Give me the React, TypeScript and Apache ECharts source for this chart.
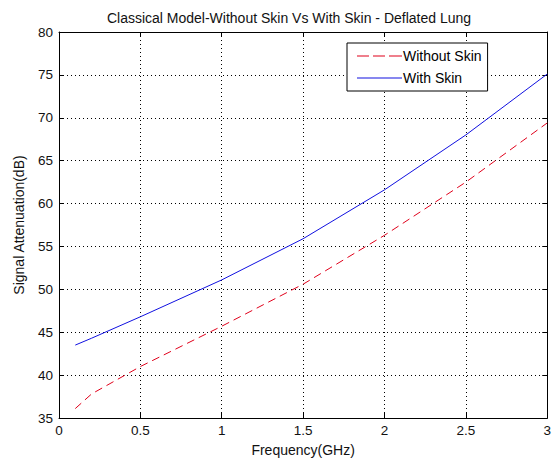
import React, { useEffect, useRef } from "react";
import * as echarts from "echarts";

const frequency = [0.1, 0.2, 0.5, 1.0, 1.5, 2.0, 2.5, 3.0];
const withoutSkin = [36.1, 37.8, 41.0, 45.7, 50.6, 56.3, 62.5, 69.4];
const withSkin = [43.5, 44.3, 46.8, 51.1, 55.9, 61.6, 68.0, 75.1];

const titleText = "Classical Model-Without Skin Vs With Skin - Deflated Lung";
const xName = "Frequency(GHz)";
const yName = "Signal Attenuation(dB)";

const FONT = "Arial, 'Liberation Sans', sans-serif";
const RED = "#e0001b";
const BLUE = "#1010e0";

export default function App() {
  const ref = useRef<HTMLDivElement>(null);
  useEffect(() => {
    if (!ref.current) return;
    const chart = echarts.init(ref.current, undefined, { renderer: "svg" });
    const grid = { left: 59, right: 5, top: 32, bottom: 44 };
    const dotted = { show: true, lineStyle: { color: "#000", width: 1, type: [1, 3] as any } };
    const axisLine = { show: true, onZero: false, lineStyle: { color: "#000", width: 1 } };
    const tick = { show: true, inside: true, length: 5, lineStyle: { color: "#000" } };
    chart.setOption({
      animation: false,
      backgroundColor: "#fff",
      textStyle: { fontFamily: FONT },
      title: {
        text: titleText,
        left: 284,
        textAlign: "center",
        top: 6,
        textStyle: { fontSize: 14, fontWeight: "normal", color: "#111", fontFamily: FONT },
      },
      legend: {
        orient: "vertical",
        left: 347,
        top: 43,
        padding: [6, 6, 6, 10],
        itemWidth: 45,
        itemHeight: 1,
        itemGap: 8,
        symbolKeepAspect: false,
        backgroundColor: "#fff",
        borderColor: "#000",
        borderWidth: 1,
        borderRadius: 0,
        textStyle: { fontSize: 14, color: "#000", fontFamily: FONT, padding: [0, 0, 0, -4] },
        data: [
          { name: "Without Skin", icon: "path://M0,0h12v1h-12z M16,0h12v1h-12z M32,0h13v1h-13z", itemStyle: { color: RED } },
          { name: "With Skin", icon: "path://M0,0h45v1h-45z", itemStyle: { color: BLUE } },
        ],
      },
      grid,
      xAxis: [
        {
          type: "value",
          min: 0,
          max: 3,
          interval: 0.5,
          name: xName,
          nameLocation: "middle",
          nameGap: 25,
          nameTextStyle: { fontSize: 14, color: "#111", fontFamily: FONT },
          axisLine,
          axisTick: tick,
          axisLabel: { fontSize: 13.5, color: "#111", margin: 5, fontFamily: FONT },
          splitLine: dotted,
        },
        {
          type: "value",
          position: "top",
          min: 0,
          max: 3,
          interval: 0.5,
          axisLine,
          axisTick: tick,
          axisLabel: { show: false },
          splitLine: { show: false },
        },
      ],
      yAxis: [
        {
          type: "value",
          min: 35,
          max: 80,
          interval: 5,
          name: yName,
          nameLocation: "middle",
          nameGap: 33,
          nameTextStyle: { fontSize: 14, color: "#111", fontFamily: FONT },
          axisLine,
          axisTick: tick,
          axisLabel: { fontSize: 13.5, color: "#111", margin: 6, fontFamily: FONT },
          splitLine: dotted,
        },
        {
          type: "value",
          position: "right",
          min: 35,
          max: 80,
          interval: 5,
          axisLine,
          axisTick: tick,
          axisLabel: { show: false },
          splitLine: { show: false },
        },
      ],
      series: [
        {
          name: "Without Skin",
          type: "line",
          data: frequency.map((f, i) => [f, withoutSkin[i]]),
          symbol: "none",
          lineStyle: { color: RED, width: 1, type: [8, 5] as any },
          itemStyle: { color: RED },
        },
        {
          name: "With Skin",
          type: "line",
          data: frequency.map((f, i) => [f, withSkin[i]]),
          symbol: "none",
          lineStyle: { color: BLUE, width: 1, type: "solid" },
          itemStyle: { color: BLUE },
        },
      ],
    });
    return () => chart.dispose();
  }, []);
  return <div ref={ref} style={{ width: 554, height: 462, position: "absolute", left: 0, top: 0 }} />;
}
